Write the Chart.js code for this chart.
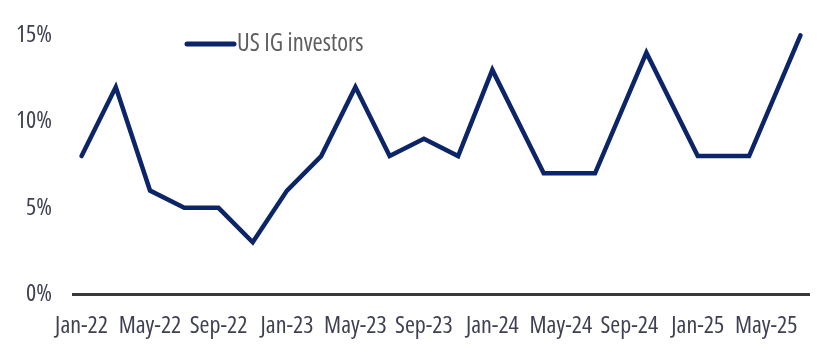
<!DOCTYPE html>
<html>
<head>
<meta charset="utf-8">
<script src="https://cdn.jsdelivr.net/npm/chart.js@4/dist/chart.umd.min.js"></script>
<style>
  html, body { margin: 0; padding: 0; background: #ffffff; }
  #wrap { width: 824px; height: 359px; position: relative; }
</style>
</head>
<body>
<div id="wrap"><canvas id="c" width="824" height="359"></canvas></div>
<script>
// Month index counted from Jan-22 (0 = Jan-22)
const months = [0, 2, 4, 6, 8, 10, 12, 14, 16, 18, 20, 22, 24, 27, 30, 33, 36, 39, 42];
const usIgInvestors = [8, 12, 6, 5, 5, 3, 6, 8, 12, 8, 9, 8, 13, 7, 7, 14, 8, 8, 15];
const seriesLabel = 'US IG investors';
const tickMonths = [0, 4, 8, 12, 16, 20, 24, 28, 32, 36, 40];
const tickLabels = ['Jan-22', 'May-22', 'Sep-22', 'Jan-23', 'May-23', 'Sep-23', 'Jan-24', 'May-24', 'Sep-24', 'Jan-25', 'May-25'];
const yTicks = [0, 5, 10, 15];

const FAMILY = "'Open Sans', sans-serif";
const STRETCH = 'condensed';
const NAVY = '#0c2468';

const legendPlugin = {
  id: 'customLegend',
  afterDraw(chart) {
    const ctx = chart.ctx;
    const ds = chart.data.datasets[0];
    ctx.save();
    ctx.strokeStyle = ds.borderColor;
    ctx.lineWidth = 5;
    ctx.lineCap = 'round';
    ctx.beginPath();
    ctx.moveTo(187, 44);
    ctx.lineTo(234, 44);
    ctx.stroke();
    ctx.fillStyle = '#5e5e5e';
    ctx.font = STRETCH + ' 24.5px ' + FAMILY;
    ctx.textBaseline = 'middle';
    ctx.textAlign = 'left';
    ctx.fillText(ds.label, 237, 44);
    ctx.restore();
  }
};

new Chart(document.getElementById('c'), {
  type: 'line',
  data: {
    datasets: [{
      label: seriesLabel,
      data: months.map((m, i) => ({ x: m, y: usIgInvestors[i] })),
      borderColor: NAVY,
      backgroundColor: NAVY,
      borderWidth: 4.5,
      pointRadius: 0,
      tension: 0,
      borderJoinStyle: 'miter',
      borderCapStyle: 'round',
      clip: false
    }]
  },
  options: {
    responsive: false,
    animation: false,
    layout: { padding: { left: 0, right: 15, top: 35, bottom: 0 } },
    plugins: {
      legend: { display: false },
      tooltip: { enabled: false }
    },
    scales: {
      x: {
        type: 'linear',
        min: -0.5,
        max: 42.5,
        grid: { display: false, drawTicks: false },
        border: { display: true, color: '#383838', width: 3 },
        afterBuildTicks(scale) { scale.ticks = tickMonths.map(v => ({ value: v })); },
        afterFit(scale) { scale.height = 65; },
        ticks: {
          padding: 18,
          maxRotation: 0,
          autoSkip: false,
          color: '#3f4152',
          font: { family: FAMILY, weight: STRETCH, size: 24 },
          callback(v) { const i = tickMonths.indexOf(v); return i >= 0 ? tickLabels[i] : ''; }
        }
      },
      y: {
        min: 0,
        max: 15,
        grid: { display: false, drawTicks: false },
        border: { display: false },
        afterBuildTicks(scale) { scale.ticks = yTicks.map(v => ({ value: v })); },
        afterFit(scale) { scale.width = 73; },
        ticks: {
          padding: 21,
          color: '#3f4152',
          font: { family: FAMILY, weight: STRETCH, size: 24 },
          callback(v) { return v + '%'; }
        }
      }
    }
  },
  plugins: [legendPlugin]
});
</script>
</body>
</html>
